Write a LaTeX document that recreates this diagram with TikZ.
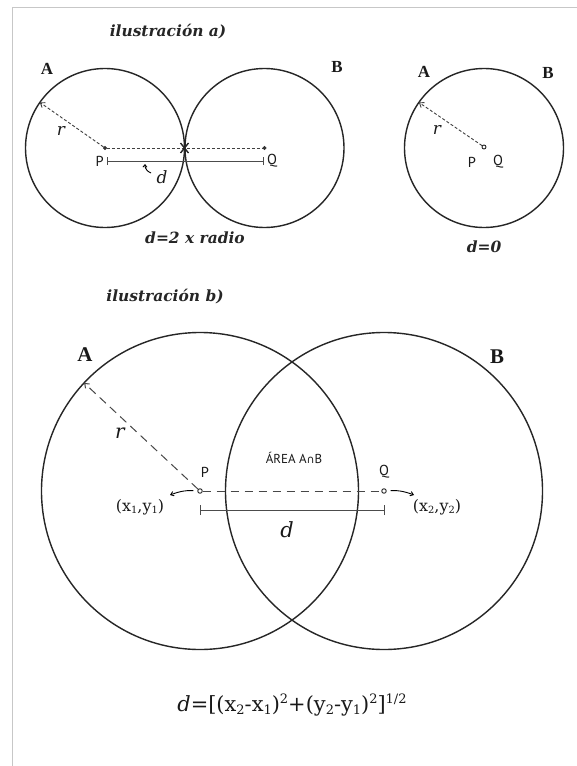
\documentclass[tikz,border=0pt]{standalone}
\usepackage{fontspec}
\setmainfont{DejaVu Serif}
\setsansfont{PT Sans}
\newfontfamily\setfont{Liberation Serif}
\newfontfamily\symfont{DejaVu Sans}
\usetikzlibrary{arrows.meta}
\newcommand{\lowsub}[1]{\raisebox{-0.25ex}{\fontsize{0.62em}{0.62em}\selectfont #1}}
\newcommand{\highsup}[1]{\raisebox{0.75ex}{\fontsize{0.62em}{0.62em}\selectfont #1}}
\tikzset{
  circ/.style={circle, draw=black!85, line width=1.4bp, inner sep=0pt, outer sep=0pt, minimum size=#1},
  dot/.style={circle, draw=black!85, fill=white, line width=0.9bp, inner sep=0pt, minimum size=4.5bp},
  sdot/.style={circle, draw=black!80, fill=black!80, line width=0.6bp, inner sep=0pt, minimum size=3.2bp},
  lbl/.style={font=\sffamily\fontsize{14.5}{14.5}\selectfont, text=black!90, inner sep=0pt},
  titletext/.style={font=\bfseries\itshape\fontsize{15.5}{15.5}\selectfont, text=black!85, inner sep=0pt},
  setA/.style={font=\setfont\bfseries\fontsize{17}{17}\selectfont, text=black!90, inner sep=0pt},
  setB/.style={font=\setfont\bfseries\fontsize{21}{21}\selectfont, text=black!90, inner sep=0pt},
  rlbl/.style={font=\itshape\fontsize{17}{17}\selectfont, text=black!90, inner sep=0pt},
  shortdash/.style={dash pattern=on 3bp off 2bp, line width=0.9bp, draw=black!75},
  longdash/.style={dash pattern=on 8.5bp off 5.5bp, line width=1bp, draw=black!72},
  barb/.style={-{Straight Barb[length=4bp,width=6bp]}},
  dline/.style={line width=1bp, draw=black!70},
  frame/.style={line width=1bp, draw=black!22}
}
\begin{document}
\begin{tikzpicture}[x=1bp,y=-1bp]
\useasboundingbox (0,0) rectangle (577,766);
\fill[white] (0,0) rectangle (577,766);
% frame
\coordinate (fTL) at (12,8);
\coordinate (fTR) at (577,8);
\coordinate (fBL) at (12,766);
\draw[frame] (fTR) -- (fTL) -- (fBL);

% ---------- illustration a)
\node[titletext] (ta) at (168,32) {ilustración a)};
\node[circ=159bp] (A1) at (105,148) {};
\node[circ=159bp] (B1) at (264.5,148) {};
\node[sdot] (P1) at (105,148) {};
\node[sdot] (Q1) at (264.5,148) {};
\draw[shortdash] (P1) -- (Q1);
\draw[shortdash, barb] (P1) -- (A1.145);
\node[rlbl] (r1) at (61,131) {r};
\node[setA] (lA1) at (47,69) {A};
\node[setA] (lB1) at (337,67) {B};
% d segment
\coordinate (dL1) at (107,161);
\coordinate (dR1) at (263,161);
\draw[dline] (dL1) -- (dR1);
\draw[dline] ([yshift=-4bp]dL1) -- ([yshift=4bp]dL1);
\draw[dline] ([yshift=-4bp]dR1) -- ([yshift=4bp]dR1);
\node[lbl, anchor=east] (pl1) at (104,161) {P};
\node[lbl, anchor=west] (ql1) at (267,161) {Q};
\node[rlbl] (d1) at (162,177) {d};
\coordinate (darrS) at (151,173);
\coordinate (darrE) at (145,164);
\draw[line width=0.9bp, -{Straight Barb[length=2.5bp,width=4bp]}] (darrS) to[bend left=35] (darrE);
% tangent mark
\coordinate (T1) at (184.5,148);
\draw[line width=1.4bp, black!85] ([shift={(-4,-5)}]T1) -- ([shift={(4,5)}]T1);
\draw[line width=1.4bp, black!85] ([shift={(-4,5)}]T1) -- ([shift={(4,-5)}]T1);
\node[titletext] (fa) at (195,238) {d=2 x radio};

% ---------- d = 0
\node[circ=159bp] (C1) at (484,148) {};
\node[dot, minimum size=4bp] (PQ) at (484,147) {};
\draw[shortdash, barb] (PQ) -- (C1.145);
\node[rlbl] (r2) at (437,130) {r};
\node[lbl] (pl2) at (472,162) {P};
\node[lbl] (ql2) at (498,162) {Q};
\node[setA] (lA2) at (424,72) {A};
\node[setA] (lB2) at (548,73) {B};
\node[titletext] (fz) at (484,247) {d=0};

% ---------- illustration b)
\node[titletext] (tb) at (165,297) {ilustración b)};
\node[circ=317bp] (A2) at (200,491) {};
\node[circ=317bp] (B2) at (384,491) {};
\node[dot] (P2) at (200,491) {};
\node[dot] (Q2) at (384,491) {};
\draw[longdash] (P2) -- (Q2);
\draw[longdash, barb] (P2) -- (A2.137);
\node[rlbl, font=\itshape\fontsize{20}{20}\selectfont] (r3) at (120,433) {r};
\node[setB] (lA3) at (85,355) {A};
\node[setB] (lB3) at (497,357) {B};
\node[lbl] (pl3) at (205,472) {P};
\node[lbl] (ql3) at (384,472) {Q};
\node[lbl, font=\sffamily\fontsize{13}{13}\selectfont] (area) at (294,458) {ÁREA A{\symfont\fontsize{11}{11}\selectfont ∩}B};
\coordinate (dL2) at (200,510);
\coordinate (dR2) at (384,510);
\draw[dline] (dL2) -- (dR2);
\draw[dline] ([yshift=-5bp]dL2) -- ([yshift=5bp]dL2);
\draw[dline] ([yshift=-5bp]dR2) -- ([yshift=5bp]dR2);
\node[rlbl, font=\itshape\fontsize{21}{21}\selectfont] (d2) at (287,530) {d};
\coordinate (x1tip) at (170,495);
\coordinate (x2tip) at (414,495);
\draw[line width=0.9bp, -{Straight Barb[length=3bp,width=4.5bp]}, shorten <=4bp] (P2) to[bend right=12] (x1tip);
\draw[line width=0.9bp, -{Straight Barb[length=3bp,width=4.5bp]}, shorten <=4bp] (Q2) to[bend left=12] (x2tip);
\node[font=\fontsize{16}{16}\selectfont, text=black!90, inner sep=0pt] (c1) at (140,507) {(x\lowsub{1},y\lowsub{1})};
\node[font=\fontsize{16}{16}\selectfont, text=black!90, inner sep=0pt] (c2) at (437,507) {(x\lowsub{2},y\lowsub{2})};

% formula
\node[font=\fontsize{21}{21}\selectfont, text=black!90, inner sep=0pt] (form) at (292,705)
  {\textit{d}=[(x\lowsub{2}-x\lowsub{1})\highsup{2}+(y\lowsub{2}-y\lowsub{1})\highsup{2}]\highsup{1/2}};
\end{tikzpicture}
\end{document}
